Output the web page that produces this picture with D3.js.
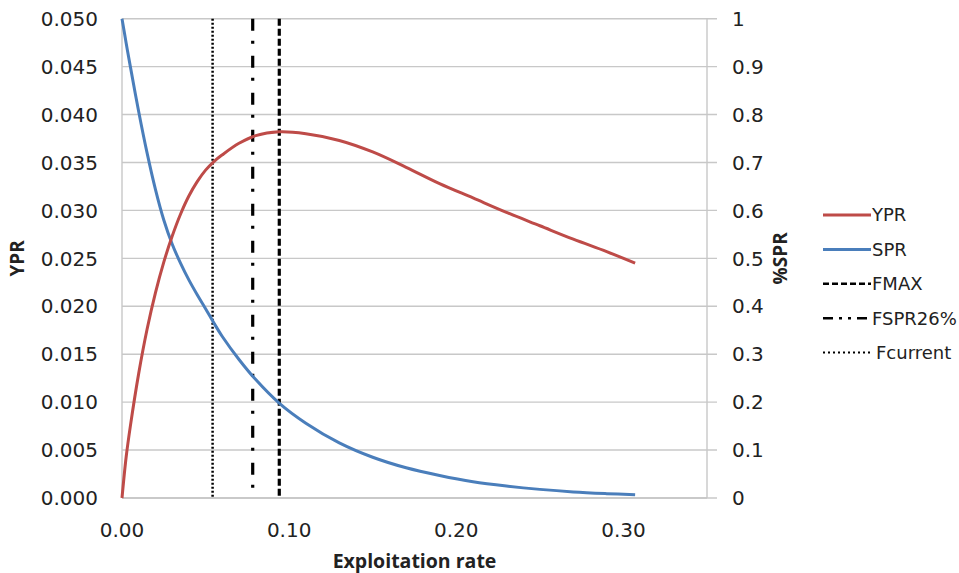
<!DOCTYPE html>
<html>
<head>
<meta charset="utf-8">
<script src="https://cdn.jsdelivr.net/npm/d3@7/dist/d3.min.js"></script>
<style>
  html, body { margin: 0; padding: 0; background: #fff; }
  svg { display: block; }
  text { font-family: "DejaVu Sans", Verdana, sans-serif; fill: #222; }
</style>
</head>
<body>
<svg id="chart" width="959" height="573"></svg>
<script>
// ---- data ----
const exploitation = [0, 0.0025, 0.005, 0.01, 0.015, 0.02, 0.025, 0.03, 0.035, 0.04, 0.045, 0.05, 0.055, 0.06, 0.07, 0.08, 0.094, 0.11, 0.13, 0.15, 0.17, 0.19, 0.21, 0.23, 0.25, 0.27, 0.29, 0.307];
const ypr = [0, 0.0043, 0.0075, 0.0130, 0.0176, 0.0214, 0.0246, 0.0273, 0.0296, 0.0315, 0.0330, 0.0342, 0.0351, 0.0358, 0.0370, 0.0378, 0.0382, 0.0380, 0.0373, 0.0361, 0.0345, 0.0328, 0.0313, 0.0298, 0.0284, 0.0270, 0.0257, 0.0245];
const spr = [1.0, 0.949, 0.900, 0.806, 0.720, 0.644, 0.580, 0.530, 0.490, 0.455, 0.424, 0.395, 0.365, 0.337, 0.289, 0.247, 0.198, 0.156, 0.115, 0.085, 0.063, 0.047, 0.034, 0.025, 0.018, 0.0127, 0.0091, 0.0067];
const refLines = [
  { name: "FMAX", value: 0.0941 },
  { name: "FSPR26%", value: 0.0782 },
  { name: "Fcurrent", value: 0.0542 }
];
const xTicks = [0, 0.10, 0.20, 0.30];
const yLeftTicks = [0, 0.005, 0.010, 0.015, 0.020, 0.025, 0.030, 0.035, 0.040, 0.045, 0.050];
const yRightTicks = [0, 0.1, 0.2, 0.3, 0.4, 0.5, 0.6, 0.7, 0.8, 0.9, 1];
const legendItems = ["YPR", "SPR", "FMAX", "FSPR26%", "Fcurrent"];

// ---- styles ----
const colors = { YPR: "#be4b48", SPR: "#4a7ebb" };
const dashStyles = {
  FMAX: { dash: "7,3", width: 3.2 },
  "FSPR26%": { dash: "12,10,3,12", width: 3.2 },
  Fcurrent: { dash: "2,2", width: 2.5 }
};
const legendDash = {
  YPR: null, SPR: null,
  FMAX: "6,3", "FSPR26%": "10,6,3,6,3,6", Fcurrent: "2,3"
};

const svg = d3.select("#chart");
const L = 122, R = 707, T = 18.7, B = 498;

const x = d3.scaleLinear().domain([0, 0.35]).range([L, R]);
const yL = d3.scaleLinear().domain([0, 0.05]).range([B, T]);
const yR = d3.scaleLinear().domain([0, 1]).range([B, T]);

// gridlines (extend past right axis as tick marks)
svg.append("g").selectAll("line").data(yLeftTicks).join("line")
  .attr("x1", L).attr("x2", R + 10)
  .attr("y1", d => yL(d)).attr("y2", d => yL(d))
  .attr("stroke", "#c8c8c8").attr("stroke-width", 1.4);

// axis lines
svg.append("line").attr("x1", L).attr("x2", L).attr("y1", T).attr("y2", B)
  .attr("stroke", "#c8c8c8").attr("stroke-width", 1.4);
svg.append("line").attr("x1", R).attr("x2", R).attr("y1", T).attr("y2", B)
  .attr("stroke", "#c8c8c8").attr("stroke-width", 1.4);
svg.append("line").attr("x1", L).attr("x2", R).attr("y1", B).attr("y2", B)
  .attr("stroke", "#c4c4c4").attr("stroke-width", 1.6);

// left tick labels
svg.append("g").selectAll("text").data(yLeftTicks).join("text")
  .attr("x", 98).attr("y", d => yL(d)).attr("dy", "0.36em")
  .attr("text-anchor", "end").attr("font-size", 20)
  .text(d => d3.format(".3f")(d));

// right tick labels
svg.append("g").selectAll("text").data(yRightTicks).join("text")
  .attr("x", 732).attr("y", d => yR(d)).attr("dy", "0.36em")
  .attr("text-anchor", "start").attr("font-size", 20)
  .text(d => d === 0 || d === 1 ? String(d) : d3.format(".1f")(d));

// x tick labels
svg.append("g").selectAll("text").data(xTicks).join("text")
  .attr("x", d => x(d)).attr("y", 537)
  .attr("text-anchor", "middle").attr("font-size", 20)
  .text(d => d3.format(".2f")(d));

// axis titles
svg.append("text").attr("x", (L + R) / 2).attr("y", 568)
  .attr("text-anchor", "middle").attr("font-size", 19.5).attr("font-weight", "bold")
  .style("font-family", "'Open Sans', sans-serif")
  .text("Exploitation rate");
svg.append("text").attr("transform", `translate(24,${(T + B) / 2}) rotate(-90)`)
  .attr("text-anchor", "middle").attr("font-size", 19).attr("font-weight", "bold")
  .style("font-family", "'Open Sans', sans-serif")
  .text("YPR");
svg.append("text").attr("transform", `translate(787,${(T + B) / 2}) rotate(-90)`)
  .attr("text-anchor", "middle").attr("font-size", 19).attr("font-weight", "bold")
  .style("font-family", "'Open Sans', sans-serif")
  .text("%SPR");

// reference vertical lines
svg.append("g").selectAll("line").data(refLines).join("line")
  .attr("x1", d => x(d.value)).attr("x2", d => x(d.value))
  .attr("y1", T).attr("y2", B)
  .attr("stroke", "#000")
  .attr("stroke-width", d => dashStyles[d.name].width)
  .attr("stroke-dasharray", d => dashStyles[d.name].dash);

// series lines
const lineY = d3.line().x((d, i) => x(exploitation[i])).y(d => yL(d)).curve(d3.curveCatmullRom.alpha(0.5));
const lineS = d3.line().x((d, i) => x(exploitation[i])).y(d => yR(d)).curve(d3.curveCatmullRom.alpha(0.5));
svg.append("path").datum(spr).attr("d", lineS)
  .attr("fill", "none").attr("stroke", colors.SPR).attr("stroke-width", 3);
svg.append("path").datum(ypr).attr("d", lineY)
  .attr("fill", "none").attr("stroke", colors.YPR).attr("stroke-width", 3);

// legend
const lg = svg.append("g");
legendItems.forEach((name, i) => {
  const yy = 215 + i * 34.4;
  const ln = lg.append("line").attr("x1", 823).attr("x2", 871).attr("y1", yy).attr("y2", yy)
    .attr("stroke", colors[name] || "#000")
    .attr("stroke-width", name === "YPR" || name === "SPR" ? 3 : (name === "Fcurrent" ? 2 : 2.5));
  if (legendDash[name]) ln.attr("stroke-dasharray", legendDash[name]);
  lg.append("text").attr("x", name === "Fcurrent" ? 876 : 872).attr("y", yy).attr("dy", "0.36em")
    .attr("font-size", 18).text(name);
});
</script>
</body>
</html>
